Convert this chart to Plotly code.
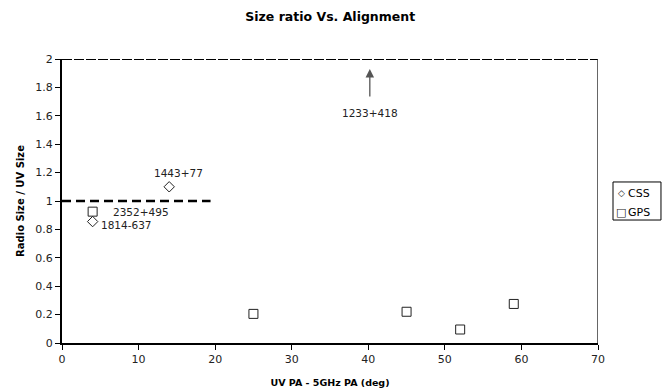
import plotly.graph_objects as go

css_x = [14, 4]
css_y = [1.1, 0.855]
css_labels = ["1443+77", "1814-637"]

gps_x = [4, 25, 45, 52, 59]
gps_y = [0.925, 0.205, 0.22, 0.095, 0.275]
gps_labels = ["2352+495", "", "", "", ""]

series_names = ["CSS", "GPS"]
series_symbols = ["◇", "□"]

arrow_x = 40.2
arrow_label = "1233+418"
ref_line_y = 1.0
ref_line_xmax = 19.4

x_ticks = [0, 10, 20, 30, 40, 50, 60, 70]
y_ticks = [0, 0.2, 0.4, 0.6, 0.8, 1, 1.2, 1.4, 1.6, 1.8, 2]
y_ticktext = ["0", "0.2", "0.4", "0.6", "0.8", "1", "1.2", "1.4", "1.6", "1.8", "2"]

FONT = "DejaVu Sans"
LBL = dict(family=FONT, size=10.5, color="#222")

fig = go.Figure()
fig.add_trace(go.Scatter(
    x=css_x, y=css_y, mode="markers", name=series_names[0],
    marker=dict(symbol="diamond-open", size=8, color="#222", line=dict(width=1)),
))
fig.add_trace(go.Scatter(
    x=gps_x, y=gps_y, mode="markers", name=series_names[1],
    marker=dict(symbol="square-open", size=9, color="#222", line=dict(width=1)),
))

# reference dashed line at y=1
fig.add_shape(type="line", x0=0, x1=ref_line_xmax, y0=ref_line_y, y1=ref_line_y,
              xref="x", yref="y", line=dict(color="black", width=2.5, dash="9px,5px"))
# dashed top border and right border
fig.add_shape(type="line", x0=0, x1=70, y0=2, y1=2, xref="x", yref="y",
              line=dict(color="black", width=2, dash="10px,2px"))
fig.add_shape(type="line", x0=70, x1=70, y0=0, y1=2, xref="x", yref="y",
              line=dict(color="#333", width=1.5))

# point labels
fig.add_annotation(x=css_x[0], y=css_y[0], text=css_labels[0], showarrow=False,
                   xshift=9, yshift=14, font=LBL)
fig.add_annotation(x=css_x[1], y=css_y[1], text=css_labels[1], showarrow=False,
                   xanchor="left", xshift=6, yshift=-3, font=LBL)
fig.add_annotation(x=gps_x[0], y=gps_y[0], text=gps_labels[0], showarrow=False,
                   xanchor="left", xshift=18, yshift=0, font=LBL)

# arrow pointing up off the chart
fig.add_annotation(x=arrow_x, y=1.93, ax=arrow_x, ay=1.725, xref="x", yref="y",
                   axref="x", ayref="y", text="", showarrow=True,
                   arrowhead=2, arrowsize=1.3, arrowwidth=1.3, arrowcolor="#555")
fig.add_annotation(x=arrow_x, y=1.62, text=arrow_label, showarrow=False, font=LBL)

# compact legend box (Excel style)
fig.add_shape(type="rect", xref="paper", yref="paper", x0=1.028, x1=1.1175,
              y0=0.433, y1=0.567, line=dict(color="black", width=1), fillcolor="white")
leg_y = [0.527, 0.458]
for name, sym, ly, ss in zip(series_names, series_symbols, leg_y, [9, 11]):
    fig.add_annotation(xref="paper", yref="paper", x=1.043, y=ly, text=sym,
                       showarrow=False, xanchor="center", yanchor="middle",
                       font=dict(family=FONT, size=ss, color="#222"))
    fig.add_annotation(xref="paper", yref="paper", x=1.053, y=ly, text=name,
                       showarrow=False, xanchor="left", yanchor="middle",
                       font=dict(family=FONT, size=11, color="black"))

fig.update_layout(
    width=663, height=384,
    margin=dict(l=54, r=73, t=51, b=49, autoexpand=False),
    paper_bgcolor="white", plot_bgcolor="white",
    font=dict(family=FONT, size=11, color="black"),
    title=dict(text="<b>Size ratio Vs. Alignment</b>", x=0.486, xanchor="center",
               y=0.977, yanchor="middle", font=dict(family=FONT, size=12.5, color="black")),
    showlegend=False,
    xaxis=dict(range=[0, 70], tickvals=x_ticks, showgrid=False, zeroline=False,
               showline=True, linecolor="black", linewidth=2, automargin=False,
               ticks="outside", ticklen=5, tickcolor="black", tickwidth=1,
               tickfont=dict(family=FONT, size=11, color="#222"),
               title=dict(text="<b>UV PA - 5GHz PA (deg)</b>", standoff=14,
                          font=dict(family=FONT, size=9.5, color="black"))),
    yaxis=dict(range=[0, 2], tickvals=y_ticks, ticktext=y_ticktext, showgrid=False,
               zeroline=False, showline=True, linecolor="black", linewidth=2,
               automargin=False,
               ticks="outside", ticklen=5, tickcolor="black", tickwidth=1,
               tickfont=dict(family=FONT, size=11, color="#222"),
               title=dict(text="<b>Radio Size / UV Size</b>", standoff=9,
                          font=dict(family=FONT, size=10, color="black"))),
)

fig.write_html("out.html")
